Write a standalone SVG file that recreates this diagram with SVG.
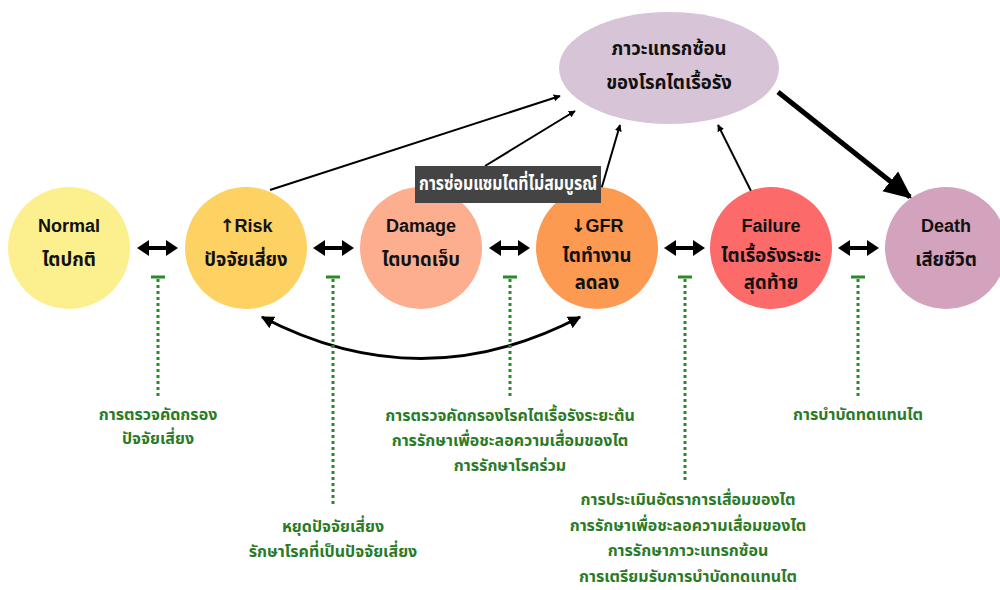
<svg xmlns="http://www.w3.org/2000/svg" width="1000" height="590" viewBox="0 0 1000 590">
<defs>
<style>
.en{font-family:"Liberation Sans","Noto Sans",sans-serif;font-weight:bold;font-size:18px;fill:#111;text-anchor:middle}
.ar{font-family:"DejaVu Sans",sans-serif;fill:#111}
.th{font-family:"Noto Sans Thai","Noto Sans","DejaVu Sans",sans-serif;font-weight:bold;font-size:18.5px;fill:#111;text-anchor:middle}
.gt{font-family:"Noto Sans Thai","Noto Sans","DejaVu Sans",sans-serif;font-weight:bold;font-size:16px;fill:#2b7a26;text-anchor:middle}
.lk{stroke:#000;stroke-width:2;fill:none}
.dot{stroke:#2b8a2b;stroke-width:3;stroke-dasharray:3 3;fill:none}
.cap{stroke:#2b8a2b;stroke-width:3}
.dbl{fill:#000}
</style>
<marker id="ah" viewBox="0 0 10 10" refX="9" refY="5" markerWidth="7" markerHeight="7" orient="auto" markerUnits="userSpaceOnUse">
<path d="M0,0 L10,5 L0,10 z" fill="#000"/>
</marker>
<marker id="ahs" viewBox="0 0 10 10" refX="9" refY="5" markerWidth="13" markerHeight="13" orient="auto-start-reverse" markerUnits="userSpaceOnUse">
<path d="M0,0 L10,5 L0,10 z" fill="#000"/>
</marker>
<marker id="ahb" viewBox="0 0 10 10" refX="9" refY="5" markerWidth="28" markerHeight="28" orient="auto" markerUnits="userSpaceOnUse">
<path d="M0,0.5 L10,5 L0,9.5 z" fill="#000"/>
</marker>
</defs>
<rect width="1000" height="590" fill="#fff"/>

<g id="connectors">
<line class="lk" x1="270" y1="190" x2="560" y2="96" marker-end="url(#ah)"/>
<line class="lk" x1="485" y1="166" x2="575" y2="111" marker-end="url(#ah)"/>
<line class="lk" x1="601" y1="190" x2="620" y2="125" marker-end="url(#ah)"/>
<line class="lk" x1="751" y1="191" x2="718" y2="125" marker-end="url(#ah)"/>
<line x1="778" y1="92" x2="910" y2="197" stroke="#000" stroke-width="5" marker-end="url(#ahb)"/>
<path d="M262,317 Q421,400 580,317" stroke="#000" stroke-width="3" fill="none" marker-start="url(#ahs)" marker-end="url(#ahs)"/>
<path class="dbl" d="M137,248 L149,240 L149,246 L166,246 L166,240 L178,248 L166,256 L166,250 L149,250 L149,256 Z"/>
<path class="dbl" d="M313,248 L325,240 L325,246 L342,246 L342,240 L354,248 L342,256 L342,250 L325,250 L325,256 Z"/>
<path class="dbl" d="M489,248 L501,240 L501,246 L518,246 L518,240 L530,248 L518,256 L518,250 L501,250 L501,256 Z"/>
<path class="dbl" d="M664,248 L676,240 L676,246 L693,246 L693,240 L705,248 L693,256 L693,250 L676,250 L676,256 Z"/>
<path class="dbl" d="M838,248 L850,240 L850,246 L867,246 L867,240 L879,248 L867,256 L867,250 L850,250 L850,256 Z"/>
<line class="cap" x1="151" y1="277" x2="165" y2="277"/>
<line class="dot" x1="158" y1="279" x2="158" y2="396"/>
<line class="cap" x1="326" y1="277" x2="340" y2="277"/>
<line class="dot" x1="333" y1="279" x2="333" y2="505"/>
<line class="cap" x1="503" y1="277" x2="517" y2="277"/>
<line class="dot" x1="510" y1="279" x2="510" y2="396"/>
<line class="cap" x1="678" y1="277" x2="692" y2="277"/>
<line class="dot" x1="685" y1="279" x2="685" y2="482"/>
<line class="cap" x1="851" y1="277" x2="865" y2="277"/>
<line class="dot" x1="858" y1="279" x2="858" y2="396"/>
</g>

<g id="complication">
<ellipse cx="669" cy="68" rx="110" ry="56" fill="#d8c4d7"/>
<text class="th" x="669" y="55" font-size="21">ภาวะแทรกซ้อน</text>
<text class="th" x="669" y="89" font-size="21">ของโรคไตเรื้อรัง</text>
</g>

<g id="normal">
<circle cx="69" cy="248" r="61" fill="#fcef8e"/>
<text class="en" x="69" y="232">Normal</text>
<text class="th" x="69" y="266">ไตปกติ</text>
</g>
<g id="risk">
<circle cx="246" cy="248" r="61" fill="#fdd262"/>
<text class="en" x="246" y="232"><tspan class="ar">↑</tspan>Risk</text>
<text class="th" x="246" y="266">ปัจจัยเสี่ยง</text>
</g>
<g id="damage">
<circle cx="421" cy="248" r="61" fill="#fdae8f"/>
<text class="en" x="421" y="232">Damage</text>
<text class="th" x="421" y="266">ไตบาดเจ็บ</text>
</g>
<g id="gfr">
<circle cx="597" cy="248" r="61" fill="#fd9a52"/>
<text class="en" x="597" y="232"><tspan class="ar">↓</tspan>GFR</text>
<text class="th" x="597" y="262">ไตทำงาน</text>
<text class="th" x="597" y="289">ลดลง</text>
</g>
<g id="failure">
<circle cx="771" cy="248" r="61" fill="#fd6a6a"/>
<text class="en" x="771" y="232">Failure</text>
<text class="th" x="771" y="262">ไตเรื้อรังระยะ</text>
<text class="th" x="771" y="289">สุดท้าย</text>
</g>
<g id="death">
<circle cx="946" cy="248" r="61" fill="#d3a2bc"/>
<text class="en" x="946" y="232">Death</text>
<text class="th" x="946" y="266">เสียชีวิต</text>
</g>

<g id="repair-label">
<rect x="415" y="166" width="186" height="37" fill="#444"/>
<text class="th" x="508" y="190" font-size="15" textLength="178" lengthAdjust="spacingAndGlyphs" style="fill:#fff">การซ่อมแซมไตที่ไม่สมบูรณ์</text>
</g>

<g id="intervention-1">
<text class="gt" x="158" y="420">การตรวจคัดกรอง</text>
<text class="gt" x="158" y="444">ปัจจัยเสี่ยง</text>
</g>
<g id="intervention-2">
<text class="gt" x="333" y="532">หยุดปัจจัยเสี่ยง</text>
<text class="gt" x="333" y="557">รักษาโรคที่เป็นปัจจัยเสี่ยง</text>
</g>
<g id="intervention-3">
<text class="gt" x="510" y="421">การตรวจคัดกรองโรคไตเรื้อรังระยะต้น</text>
<text class="gt" x="510" y="446">การรักษาเพื่อชะลอความเสื่อมของไต</text>
<text class="gt" x="510" y="471">การรักษาโรคร่วม</text>
</g>
<g id="intervention-4">
<text class="gt" x="688" y="505">การประเมินอัตราการเสื่อมของไต</text>
<text class="gt" x="688" y="531">การรักษาเพื่อชะลอความเสื่อมของไต</text>
<text class="gt" x="688" y="556">การรักษาภาวะแทรกซ้อน</text>
<text class="gt" x="688" y="582">การเตรียมรับการบำบัดทดแทนไต</text>
</g>
<g id="intervention-5">
<text class="gt" x="858" y="420">การบำบัดทดแทนไต</text>
</g>
</svg>
